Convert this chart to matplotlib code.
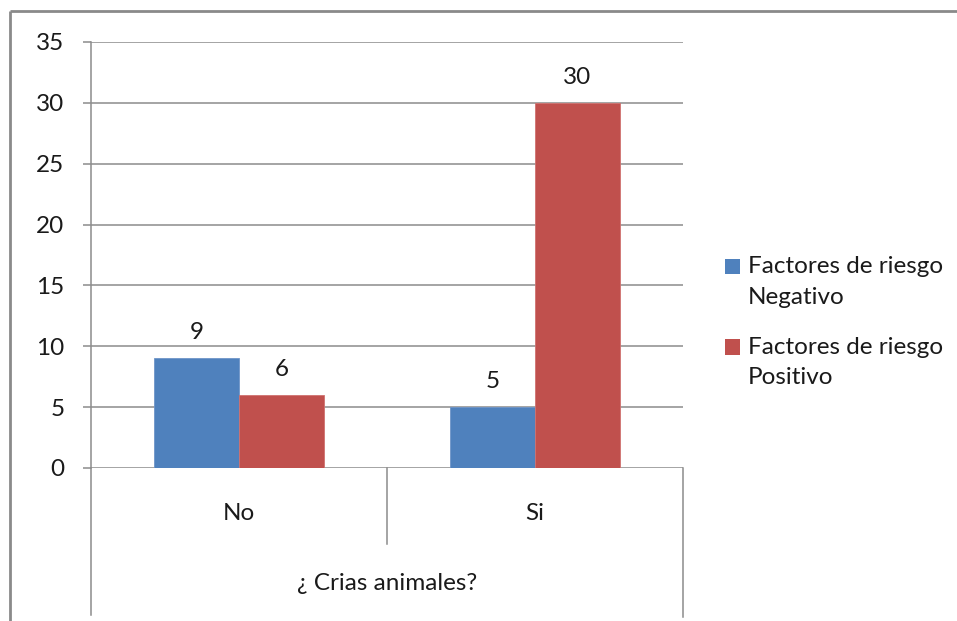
import matplotlib
matplotlib.use("Agg")
import matplotlib.pyplot as plt
from matplotlib.lines import Line2D
from matplotlib.patches import Rectangle
from matplotlib.legend_handler import HandlerBase
import numpy as np

categories = ["No", "Si"]
series_names = ["Factores de riesgo\nNegativo", "Factores de riesgo\nPositivo"]
negativo = [9, 5]
positivo = [6, 30]
y_ticks = [0, 5, 10, 15, 20, 25, 30, 35]
axis_title = "¿ Crias animales?"

blue = "#4F81BD"
red = "#C0504D"
grid_gray = "#8C8C8C"
text_color = "#1A1A1A"
font = "Lato"
fs = 17.5

W, H = 957, 621
fig = plt.figure(figsize=(W / 100, H / 100), dpi=100)
fig.patch.set_facecolor("white")

def fx(px):
    return px / W

def fy(py):
    return 1 - py / H

left, right, top, bottom = 91, 683, 42, 468
ax = fig.add_axes([fx(left), fy(bottom), fx(right) - fx(left), fy(top) - fy(bottom)])

x = np.arange(len(categories)) + 0.5
bw = 0.287
b1 = ax.bar(x - bw / 2, negativo, bw, color=blue, edgecolor="#6F95C8", linewidth=0.6, zorder=3,
            label=series_names[0])
b2 = ax.bar(x + bw / 2, positivo, bw, color=red, edgecolor="#D07270", linewidth=0.6, zorder=3,
            label=series_names[1])

for bars, vals in ((b1, negativo), (b2, positivo)):
    for rect, v in zip(bars, vals):
        ax.annotate(str(v), (rect.get_x() + rect.get_width() / 2, v), xytext=(0, 19),
                    textcoords="offset pixels", ha="center", va="baseline",
                    fontsize=fs, family=font, color=text_color)

ax.set_xlim(0, len(categories))
ax.set_ylim(0, 35)
ax.set_yticks(y_ticks)
ax.set_yticklabels([str(t) for t in y_ticks], family=font, fontsize=fs, color=text_color)
ax.set_xticks([])
ax.yaxis.grid(True, color=grid_gray, linewidth=1.1, zorder=0)
ax.set_axisbelow(True)
for s in ["top", "right", "bottom"]:
    ax.spines[s].set_visible(False)
ax.spines["left"].set_color(grid_gray)
ax.spines["left"].set_linewidth(1.1)
ax.tick_params(axis="y", length=6, width=1.1, color=grid_gray, pad=13)

# category axis box below the plot
lines = [
    ((left, left), (bottom, 615)),
    ((387, 387), (bottom, 544)),
    ((right, right), (bottom, 617)),
]
for xs, ys in lines:
    fig.add_artist(Line2D([fx(v) for v in xs], [fy(v) for v in ys], color=grid_gray, linewidth=1.1))

for xc, lab in zip(x, categories):
    px = left + (right - left) * xc / len(categories)
    fig.text(fx(px), fy(513), lab, ha="center", va="center", family=font, fontsize=fs, color=text_color)
fig.text(fx(387), fy(583), axis_title, ha="center", va="center", family=font, fontsize=fs, color=text_color)

# outer chart frame
fig.add_artist(Line2D([fx(9.5), fx(9.5)], [fy(11), -0.01], color="#8A8A8A", linewidth=2,
                      solid_capstyle="butt"))
fig.add_artist(Line2D([fx(9.5), 1.01], [fy(11), fy(11)], color="#8A8A8A", linewidth=2,
                      solid_capstyle="butt"))


class FirstLineSquare(HandlerBase):
    """Square legend key aligned with the first line of a two-line label."""

    def create_artists(self, legend, orig_handle, xdescent, ydescent, width, height,
                       fontsize, trans):
        shift = 11.0  # points, half a text line
        color = orig_handle.patches[0].get_facecolor()
        p = Rectangle((-xdescent + 2, -ydescent + shift), width, height,
                      facecolor=color, edgecolor="none")
        p.set_transform(trans)
        return [p]


leg = fig.legend(handles=[b1, b2], labels=series_names, loc="upper left",
                 bbox_to_anchor=(fx(710), fy(244)), frameon=False,
                 prop={"family": font, "size": fs}, handlelength=0.6, handleheight=0.6,
                 handletextpad=0.45, labelspacing=1.2, borderpad=0,
                 handler_map={b1: FirstLineSquare(), b2: FirstLineSquare()})
for t in leg.get_texts():
    t.set_color(text_color)
    t.set_linespacing(1.55)

fig.savefig("out.png", dpi=100, facecolor="white")
